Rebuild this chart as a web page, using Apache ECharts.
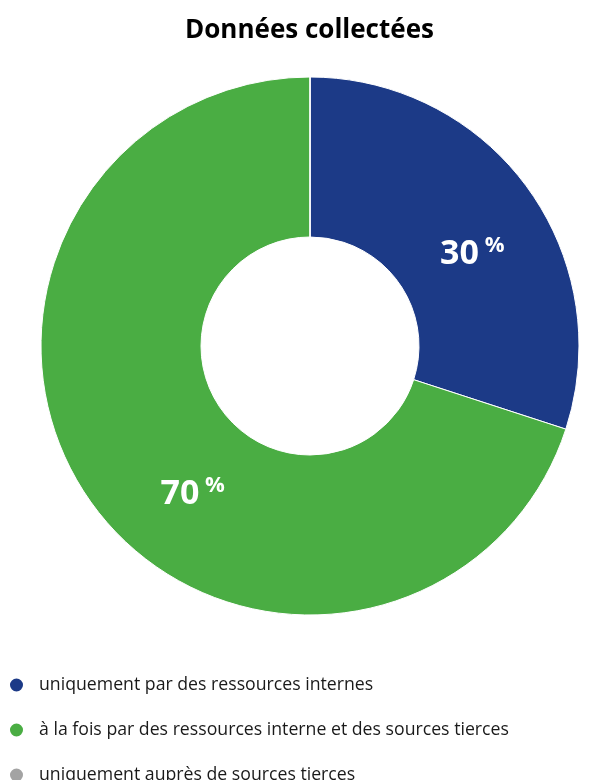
<!DOCTYPE html>
<html>
<head>
<meta charset="utf-8">
<script src="https://cdn.jsdelivr.net/npm/echarts@6/dist/echarts.min.js"></script>
<style>
  html, body { margin: 0; padding: 0; background: #fff; }
  #chart { width: 589px; height: 780px; }
</style>
</head>
<body>
<div id="chart"></div>
<script>
// Répartition des données collectées (en %)
const categories = [
  'uniquement par des ressources internes',
  'à la fois par des ressources interne et des sources tierces',
  'uniquement auprès de sources tierces'
];
const values = [30, 70, 0];
const colors = ['#1c3a87', '#4aad43', '#a3a3a3'];
const titleText = 'Données collectées';

// small hand nudges for the in-slice labels
const labelNudge = [[7, 20], [38, 34], [0, 0]];

const chart = echarts.init(document.getElementById('chart'), null, { renderer: 'canvas' });

const data = categories.map((name, i) => ({
  name: name,
  value: values[i],
  itemStyle: { color: colors[i] },
  label: { show: values[i] > 0 }
}));

chart.setOption({
  animation: false,
  title: {
    text: titleText,
    // placed so the title sits centred over the ring
    left: 180,
    top: 13,
    textStyle: {
      fontFamily: 'Open Sans',
      fontWeight: 'bold',
      fontSize: 26,
      color: '#000'
    }
  },
  legend: {
    orient: 'vertical',
    left: 3,
    top: 670,
    height: 200,
    icon: 'circle',
    itemWidth: 15,
    itemHeight: 15,
    itemGap: 25,
    selectedMode: false,
    data: categories,
    textStyle: {
      fontFamily: 'Open Sans',
      fontSize: 17.7,
      lineHeight: 20,
      color: '#1a1a1a',
      padding: [0, 0, 0, 10]
    }
  },
  series: [{
    type: 'pie',
    center: [310, 346],
    radius: [109, 269],
    startAngle: 90,
    clockwise: true,
    avoidLabelOverlap: false,
    itemStyle: { borderColor: '#ffffff', borderWidth: 1 },
    label: {
      position: 'inside',
      formatter: '{v|{c}}{p| %}',
      rich: {
        v: {
          fontFamily: 'Open Sans',
          fontWeight: 'bold',
          fontSize: 34,
          lineHeight: 36,
          color: '#fff',
          verticalAlign: 'bottom'
        },
        p: {
          fontFamily: 'Open Sans',
          fontWeight: 'bold',
          fontSize: 22,
          lineHeight: 36,
          color: '#fff',
          verticalAlign: 'top'
        }
      }
    },
    labelLine: { show: false },
    labelLayout: function (params) {
      const n = labelNudge[params.dataIndex] || [0, 0];
      return { dx: n[0], dy: n[1] };
    },
    emphasis: { disabled: true },
    data: data
  }]
});
</script>
</body>
</html>
